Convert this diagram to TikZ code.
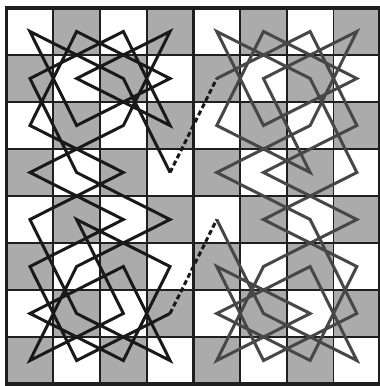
\documentclass[tikz,border=0pt]{standalone}
\usepackage{tikz}
\usetikzlibrary{positioning, calc}

\tikzset{
  darksq/.style={fill=black!33},
  gridline/.style={line width=1.8pt, draw=black!88},
  frameline/.style={line width=3.6pt, draw=black!88},
  tourleft/.style={line width=3pt, draw=black!90},
  tourright/.style={line width=3pt, draw=black!72},
  bridge/.style={line width=3pt, draw=black!90, dash pattern=on 5pt off 3pt},
}

\begin{document}
\begin{tikzpicture}[x=46.7pt, y=-47pt]
  \useasboundingbox (-0.1413,-0.1702) rectangle (7.9957,8.0426);
  % board and square centres
  \foreach \c in {0,...,7}
    \foreach \r in {0,...,7} {
      \pgfmathtruncatemacro{\odd}{mod(\c+\r,2)}
      \ifnum\odd=1 \fill[darksq] (\c,\r) rectangle ++(1,1); \fi
      \coordinate (sq-\c-\r) at (\c+.5,\r+.5);
    }
  \foreach \i in {1,...,7}
    \draw[gridline] (\i,0) -- (\i,8) (0,\i) -- (8,\i);
  \draw[frameline] (0,0) rectangle (8,8) (4,0) -- (4,8);

  % left half tour
  \draw[tourleft] (sq-3-6) -- (sq-1-7) -- (sq-0-5) -- (sq-2-4) -- (sq-0-3)
    -- (sq-2-2) -- (sq-3-0) -- (sq-1-1) -- (sq-3-2) -- (sq-2-0) -- (sq-0-1)
    -- (sq-1-3) -- (sq-3-4) -- (sq-1-5) -- (sq-0-7) -- (sq-2-6) -- (sq-1-4)
    -- (sq-3-5) -- (sq-2-7) -- (sq-0-6) -- (sq-2-5) -- (sq-3-7) -- (sq-1-6)
    -- (sq-0-4) -- (sq-2-3) -- (sq-0-2) -- (sq-1-0) -- (sq-3-1) -- (sq-1-2)
    -- (sq-0-0) -- (sq-2-1) -- (sq-3-3);

  % right half tour
  \draw[tourright] (sq-4-1) -- (sq-6-0) -- (sq-7-2) -- (sq-5-3) -- (sq-7-4)
    -- (sq-5-5) -- (sq-4-7) -- (sq-6-6) -- (sq-4-5) -- (sq-5-7) -- (sq-7-6)
    -- (sq-6-4) -- (sq-4-3) -- (sq-6-2) -- (sq-7-0) -- (sq-5-1) -- (sq-6-3)
    -- (sq-4-2) -- (sq-5-0) -- (sq-7-1) -- (sq-5-2) -- (sq-4-0) -- (sq-6-1)
    -- (sq-7-3) -- (sq-5-4) -- (sq-7-5) -- (sq-6-7) -- (sq-4-6) -- (sq-6-5)
    -- (sq-7-7) -- (sq-5-6) -- (sq-4-4);

  % joins between the halves
  \draw[bridge] (sq-3-3) -- (sq-4-1);
  \draw[bridge] (sq-3-6) -- (sq-4-4);
\end{tikzpicture}
\end{document}
